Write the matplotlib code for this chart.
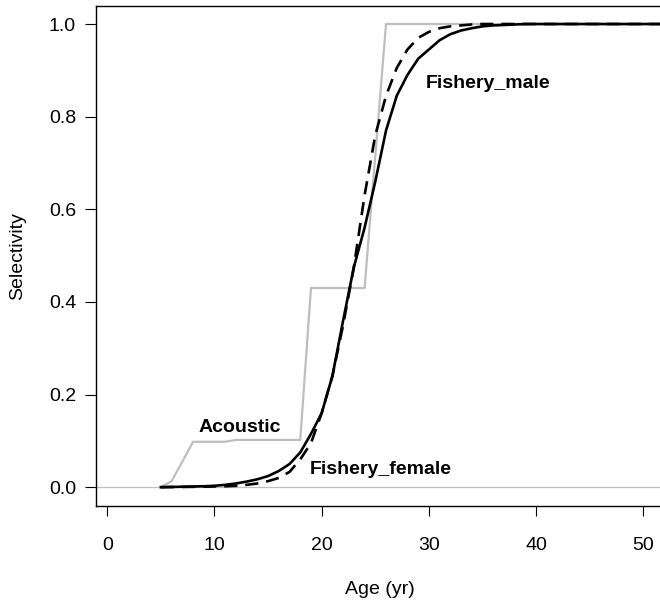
import matplotlib
matplotlib.use("Agg")
import matplotlib.pyplot as plt

plt.rcParams['font.family'] = ['Liberation Sans', 'DejaVu Sans']

ages = list(range(5, 54))

acoustic = [0.0, 0.013, 0.055, 0.098, 0.098, 0.098, 0.098, 0.102, 0.102, 0.102,
            0.102, 0.102, 0.102, 0.102, 0.43, 0.43, 0.43, 0.43, 0.43, 0.43,
            0.715, 1.0] + [1.0] * 27

male = [0.0, 0.0005, 0.001, 0.0015, 0.002, 0.003, 0.005, 0.008, 0.012, 0.017,
        0.024, 0.035, 0.05, 0.075, 0.115, 0.16, 0.24, 0.36, 0.475, 0.56,
        0.66, 0.77, 0.845, 0.89, 0.925, 0.945, 0.965, 0.978, 0.986, 0.991,
        0.995, 0.997, 0.998, 0.999] + [1.0] * 15

female = [0.0, 0.0003, 0.0005, 0.0008, 0.001, 0.0015, 0.002, 0.003, 0.005, 0.008,
          0.013, 0.02, 0.033, 0.06, 0.095, 0.16, 0.24, 0.35, 0.475, 0.63,
          0.76, 0.845, 0.905, 0.945, 0.97, 0.983, 0.991, 0.995, 0.997, 0.999] + [1.0] * 19

labels = ["Acoustic", "Fishery_male", "Fishery_female"]
label_pos = [(12.4, 0.129), (35.5, 0.872), (25.5, 0.038)]

W, H = 660, 605
fig = plt.figure(figsize=(W / 100, H / 100), dpi=100)
ax = fig.add_axes([95.7 / W, (H - 505.7) / H, (670.1 - 95.7) / W, (505.7 - 5.5) / H])

gray = '#BEBEBE'
ax.axhline(0, color=gray, lw=0.9, zorder=1)
ax.plot(ages, acoustic, color=gray, lw=1.6, zorder=2)
ax.plot(ages, male, color='black', lw=1.9, zorder=3)
ax.plot(ages, female, color='black', lw=1.9, ls=(0, (5, 3)), zorder=3)

for t, (x, y) in zip(labels, label_pos):
    ax.text(x, y, t, fontsize=14, fontweight='bold', ha='center', va='center')

ax.set_xlim(-1.08, 52.5)
ax.set_ylim(-0.04, 1.04)
ax.set_xticks([0, 10, 20, 30, 40, 50])
ax.set_yticks([0.0, 0.2, 0.4, 0.6, 0.8, 1.0])
ax.set_yticklabels(['0.0', '0.2', '0.4', '0.6', '0.8', '1.0'])
ax.tick_params(axis='y', direction='out', length=7.6, width=0.8, pad=6.5, labelsize=14)
ax.tick_params(axis='x', direction='out', length=7.5, width=0.8, pad=15, labelsize=14)
for s in ax.spines.values():
    s.set_linewidth(1.0)

fig.text(380 / W, 1 - 590 / H, 'Age (yr)', ha='center', va='center', fontsize=14)
fig.text(18 / W, 1 - 255.6 / H, 'Selectivity', ha='center', va='center', fontsize=14, rotation=90)

fig.savefig('out.png', dpi=100)
